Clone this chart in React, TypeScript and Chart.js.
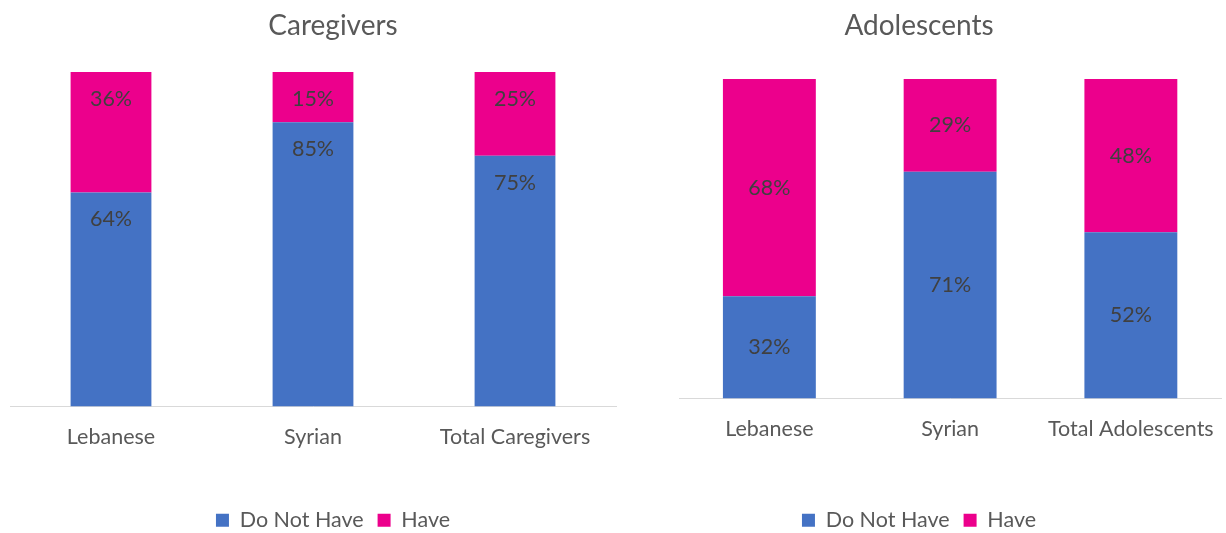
import React, { useEffect, useRef } from "react";
import { Chart, registerables } from "chart.js";
Chart.register(...registerables);

const careCategories = ["Lebanese", "Syrian", "Total Caregivers"];
const careDoNotHave = [64, 85, 75];
const careHave = [36, 15, 25];

const adoCategories = ["Lebanese", "Syrian", "Total Adolescents"];
const adoDoNotHave = [32, 71, 52];
const adoHave = [68, 29, 48];

const seriesNames = ["Do Not Have", "Have"];
const BLUE = "#4472C4";
const PINK = "#EC008C";
const FONT = "Lato, 'Open Sans', sans-serif";
const TXT = 21.5;

const labelPlugin = {
  id: "segLabels",
  afterDatasetsDraw(chart: any, _args: any, opts: any) {
    const ctx = chart.ctx;
    ctx.save();
    ctx.font = `${TXT}px ${FONT}`;
    ctx.fillStyle = "#404040";
    ctx.textAlign = "center";
    ctx.textBaseline = "middle";
    chart.data.datasets.forEach((ds: any, di: number) => {
      const meta = chart.getDatasetMeta(di);
      meta.data.forEach((bar: any, i: number) => {
        const v = ds.data[i];
        const y = opts.insideEnd ? bar.y + 27 : (bar.y + bar.base) / 2;
        ctx.fillText(v + "%", bar.x, y);
      });
    });
    ctx.restore();
  },
};

type Props = {
  title: string;
  categories: string[];
  a: number[];
  b: number[];
  left: number;
  width: number;
  pad: number;
  yWidth: number;
  yPos: "left" | "right";
  titleBottom: number;
  xHeight: number;
  barPct: number;
  insideEnd: boolean;
};

function StackChart(p: Props) {
  const ref = useRef<HTMLCanvasElement | null>(null);
  useEffect(() => {
    if (!ref.current) return;
    const chart = new Chart(ref.current, {
      type: "bar",
      data: {
        labels: p.categories,
        datasets: [
          { label: seriesNames[0], data: p.a, backgroundColor: BLUE, barPercentage: p.barPct, categoryPercentage: 1 },
          { label: seriesNames[1], data: p.b, backgroundColor: PINK, barPercentage: p.barPct, categoryPercentage: 1 },
        ],
      },
      options: {
        responsive: false,
        animation: false,
        layout: { padding: { left: p.pad, right: p.pad, top: 0, bottom: -8 } },
        plugins: {
          title: {
            display: true,
            text: p.title,
            color: "#595959",
            font: { family: FONT, size: 28, weight: "normal" },
            padding: { top: 9, bottom: p.titleBottom },
          },
          legend: {
            position: "bottom",
            labels: {
              color: "#595959",
              font: { family: FONT, size: TXT },
              boxWidth: 13,
              boxHeight: 13,
              padding: 14,
            },
          },
          tooltip: { enabled: false },
          segLabels: { insideEnd: p.insideEnd },
        } as any,
        scales: {
          x: {
            stacked: true,
            grid: { display: false },
            border: { display: true, color: "#D9D9D9", width: 1 },
            ticks: { color: "#595959", font: { family: FONT, size: TXT }, padding: 10 },
            afterFit: (s: any) => { s.height = p.xHeight; },
          },
          y: {
            stacked: true,
            display: true,
            position: p.yPos,
            min: 0,
            max: 100,
            grid: { display: false },
            border: { display: false },
            ticks: { display: false },
            afterFit: (s: any) => { s.width = p.yWidth; },
          },
        },
      },
      plugins: [labelPlugin],
    });
    return () => chart.destroy();
  }, []);
  return (
    <div style={{ position: "absolute", left: p.left, top: 0, width: p.width, height: 533 }}>
      <canvas ref={ref} width={p.width} height={533} />
    </div>
  );
}

export default function App() {
  return (
    <div style={{ position: "absolute", left: 0, top: 0, width: 1226, height: 533, background: "#fff" }}>
      <StackChart title="Caregivers" categories={careCategories} a={careDoNotHave} b={careHave}
        left={0} width={666} pad={10} yWidth={40} yPos="right" titleBottom={29.4} xHeight={89}
        barPct={0.4} insideEnd={true} />
      <StackChart title="Adolescents" categories={adoCategories} a={adoDoNotHave} b={adoHave}
        left={614} width={610} pad={2} yWidth={63} yPos="left" titleBottom={36.4} xHeight={97}
        barPct={0.514} insideEnd={false} />
    </div>
  );
}
